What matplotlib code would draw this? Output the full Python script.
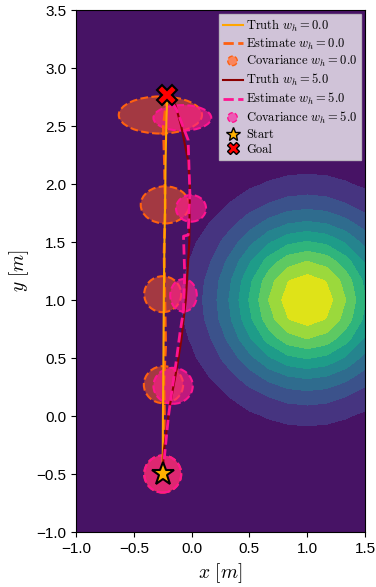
import matplotlib
matplotlib.use('Agg')
import matplotlib.pyplot as plt
import numpy as np
from matplotlib.patches import Ellipse, Circle
from matplotlib.lines import Line2D
from matplotlib.legend_handler import HandlerPatch
from matplotlib.colors import to_rgba

plt.rcParams['mathtext.fontset'] = 'cm'
plt.rcParams['font.family'] = 'Liberation Sans'

# obstacle field (gaussian bump) parameters
bump_center = (1.0, 1.0)
bump_sigma = 0.5
levels = np.linspace(0, 1, 11)

start = (-0.25, -0.5)
goal = (-0.21, 2.77)

# trajectories, w_h = 0.0
truth0_x = [-0.25, -0.248, -0.245, -0.24, -0.235, -0.23, -0.225, -0.218, -0.21]
truth0_y = [-0.5, 0.0, 0.3, 1.05, 1.5, 1.8, 2.2, 2.55, 2.77]
est0_x = [-0.25, -0.235, -0.24, -0.225, -0.232, -0.238, -0.228, -0.235, -0.245, -0.21]
est0_y = [-0.5, 0.0, 0.3, 0.6, 1.05, 1.4, 1.8, 2.2, 2.5, 2.77]

# trajectories, w_h = 5.0
truth5_x = [-0.25, -0.24, -0.19, -0.13, -0.09, -0.05, -0.02, -0.015, -0.03, -0.05, -0.09, -0.14, -0.21]
truth5_y = [-0.5, -0.3, 0.08, 0.4, 0.65, 1.0, 1.5, 2.0, 2.2, 2.3, 2.5, 2.68, 2.77]
est5_x = [-0.25, -0.2, -0.17, -0.14, -0.1, -0.07, -0.06, -0.07, -0.03, -0.015, -0.03, -0.13, -0.21]
est5_y = [-0.5, 0.0, 0.22, 0.42, 0.72, 0.91, 1.23, 1.55, 1.56, 1.92, 2.38, 2.64, 2.77]

# covariance ellipses (center x, center y, width, height)
cov0_x = [-0.25, -0.243, -0.25, -0.23, -0.27]
cov0_y = [-0.5, 0.27, 1.05, 1.82, 2.595]
cov0_w = [0.32, 0.34, 0.32, 0.42, 0.72]
cov0_h = [0.32, 0.32, 0.31, 0.32, 0.32]
cov5_x = [-0.25, -0.16, -0.07, -0.005, -0.08]
cov5_y = [-0.5, 0.26, 1.04, 1.79, 2.57]
cov5_w = [0.32, 0.34, 0.23, 0.26, 0.50]
cov5_h = [0.32, 0.31, 0.28, 0.23, 0.22]

c_truth0 = '#FFA500'
c_est0 = '#FF6010'
c_cov0 = to_rgba('#FF6020', 0.5)
c_truth5 = '#8B0000'
c_est5 = '#FF1490'
c_cov5 = to_rgba('#FF1E8B', 0.65)

fig = plt.figure(figsize=(3.76, 5.87), dpi=100)
ax = fig.add_axes([76 / 376, 55 / 587, 289 / 376, 522 / 587])

gx = np.linspace(-1, 1.5, 16)
gy = np.linspace(-1, 3.5, 28)
X, Y = np.meshgrid(gx, gy)
Z = np.exp(-((X - bump_center[0])**2 + (Y - bump_center[1])**2) / (2 * bump_sigma**2))
ax.contourf(X, Y, Z, levels=levels, cmap='viridis', zorder=0)

for x, y, w, h in zip(cov0_x, cov0_y, cov0_w, cov0_h):
    ax.add_patch(Ellipse((x, y), w, h, facecolor=c_cov0, edgecolor=c_est0,
                         linestyle='--', linewidth=1.5, zorder=2))
for x, y, w, h in zip(cov5_x, cov5_y, cov5_w, cov5_h):
    ax.add_patch(Ellipse((x, y), w, h, facecolor=c_cov5, edgecolor=c_est5,
                         linestyle='--', linewidth=1.5, zorder=2))

ax.plot(est0_x, est0_y, color=c_est0, lw=2, ls='--', zorder=3)
ax.plot(truth0_x, truth0_y, color=c_truth0, lw=1.5, zorder=3)
ax.plot(truth5_x, truth5_y, color=c_truth5, lw=1.5, zorder=3)
ax.plot(est5_x, est5_y, color=c_est5, lw=2, ls='--', zorder=3)

ax.plot(*start, marker='*', ms=17, color='#FFB000', mec='black', mew=1.5, ls='none', zorder=5)
ax.plot(*goal, marker='X', ms=14, color='red', mec='black', mew=1.5, ls='none', zorder=5)

ax.set_xlim(-1, 1.5)
ax.set_ylim(-1, 3.5)
ax.set_xticks([-1.0, -0.5, 0.0, 0.5, 1.0, 1.5])
ax.set_yticks(np.arange(-1, 3.51, 0.5))
ax.tick_params(labelsize=11)
ax.set_xlabel(r'$x\ [m]$', fontsize=14)
ax.set_ylabel(r'$y\ [m]$', fontsize=14)


def make_circle(legend, orig_handle, xdescent, ydescent, width, height, fontsize):
    return Circle((width / 2 - xdescent, height / 2 - ydescent), 0.38 * fontsize)


handles = [
    Line2D([], [], color=c_truth0, lw=1.5),
    Line2D([], [], color=c_est0, lw=2, ls='--'),
    Circle((0, 0), 1, facecolor=to_rgba('#FF7F50', 0.9), edgecolor=c_est0, linestyle='--', linewidth=1.0),
    Line2D([], [], color=c_truth5, lw=1.5),
    Line2D([], [], color=c_est5, lw=2, ls='--'),
    Circle((0, 0), 1, facecolor=to_rgba('#F050B0', 0.9), edgecolor=c_est5, linestyle='--', linewidth=1.0),
    Line2D([], [], marker='*', ms=10, color='#FFB000', mec='black', mew=1, ls='none'),
    Line2D([], [], marker='X', ms=9, color='red', mec='black', mew=1, ls='none'),
]
labels = [r'Truth $w_h = 0.0$', r'Estimate $w_h = 0.0$', r'Covariance $w_h = 0.0$',
          r'Truth $w_h = 5.0$', r'Estimate $w_h = 5.0$', r'Covariance $w_h = 5.0$',
          'Start', 'Goal']
leg = ax.legend(handles, labels, loc='upper right', prop={'family': 'cmr10', 'size': 9},
                handler_map={Circle: HandlerPatch(patch_func=make_circle)},
                fancybox=False, borderaxespad=0.3, handlelength=1.6, handletextpad=0.3,
                labelspacing=0.22, borderpad=0.3)
leg.get_frame().set_alpha(0.75)

fig.savefig('out.png', dpi=100)
